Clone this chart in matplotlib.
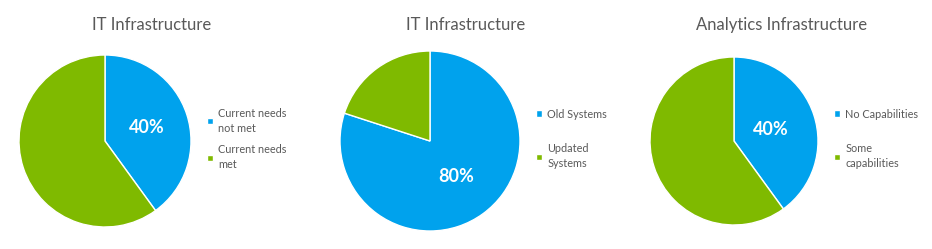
import matplotlib
matplotlib.use("Agg")
import matplotlib.pyplot as plt

titles = ["IT Infrastructure", "IT Infrastructure", "Analytics Infrastructure"]
labels1 = ["Current needs\nnot met", "Current needs\nmet"]
values1 = [40, 60]
labels2 = ["Old Systems", "Updated\nSystems"]
values2 = [80, 20]
labels3 = ["No Capabilities", "Some\ncapabilities"]
values3 = [40, 60]

colors = ["#00A2ED", "#7FBA00"]
plt.rcParams['font.family'] = ['Lato', 'DejaVu Sans']

W, H = 932, 249
fig = plt.figure(figsize=(W / 100, H / 100), dpi=100)

# (cx, cy, r) in pixels (y from top), title center x, legend left x, label pos, label spacing
panels = [
    (values1, labels1, titles[0], (105, 141, 86), 152, 207, 0.51, 1.0),
    (values2, labels2, titles[1], (430, 141, 90), 466, 536, 0.49, 2.2),
    (values3, labels3, titles[2], (734, 141, 84), 782, 834, 0.46, 2.2),
]

for vals, labs, title, (cx, cy, r), tx, lx, pd, ls in panels:
    ax = fig.add_axes([(cx - r) / W, (H - cy - r) / H, 2 * r / W, 2 * r / H])
    wedges, _, autotexts = ax.pie(
        vals, colors=colors, startangle=90, counterclock=False,
        wedgeprops=dict(edgecolor="white", linewidth=1),
        autopct=lambda p: f"{p:.0f}%",
        pctdistance=pd,
        textprops=dict(color="white", fontsize=13, fontweight="bold"),
    )
    autotexts[1].set_text("")
    ax.set_xlim(-1, 1)
    ax.set_ylim(-1, 1)
    ax.set_aspect("auto")
    ax.axis("off")
    fig.text(tx / W, 1 - 25 / H, title, ha="center", va="center",
             fontsize=12, color="#595959")
    leg = fig.legend(wedges, labs, loc="center left",
                     bbox_to_anchor=(lx / W, 1 - 139 / H), frameon=False,
                     fontsize=7.8, handlelength=0.55, handleheight=0.55,
                     handletextpad=0.5, labelspacing=ls, labelcolor="#595959",
                     borderpad=0, borderaxespad=0)
    for t in leg.get_texts():
        t.set_linespacing(1.45)

fig.savefig("out.png", dpi=100, facecolor="white")
